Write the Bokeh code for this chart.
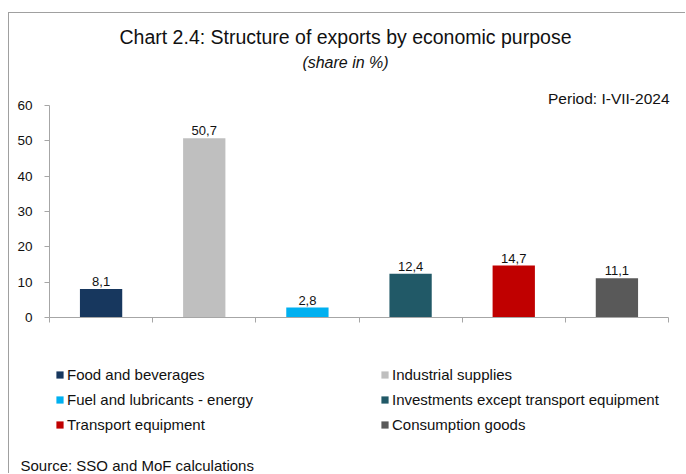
from bokeh.plotting import figure
from bokeh.models import (ColumnDataSource, Range1d, FixedTicker, LabelSet, Label,
                          Legend, LegendItem)
from bokeh.core.properties import value
from bokeh.embed import file_html
from bokeh.resources import INLINE

# ---- data ----
categories = ["Food and beverages", "Industrial supplies", "Fuel and lubricants - energy",
              "Investments except transport equipment", "Transport equipment", "Consumption goods"]
values = [8.1, 50.7, 2.8, 12.4, 14.7, 11.1]
colors = ["#17375E", "#BFBFBF", "#00B0F0", "#215967", "#C00000", "#595959"]
y_ticks = [0, 10, 20, 30, 40, 50, 60]
y_max = 60
title_text = "Chart 2.4: Structure of exports by economic purpose"
subtitle_text = "(share in %)"
period_text = "Period: I-VII-2024"
source_text = "Source: SSO and MoF calculations"

FONT = "Liberation Sans"
GREY = "#a6a6a6"
TXT = "#111111"

# ---- layout (pixels on the canvas) ----
CW, CH = 677, 461          # canvas size
X0, X1 = 40, 659           # pixel span of the category axis
Y0, Y1 = 304, 92           # pixel rows (from top) of value 0 and value y_max
n = len(categories)
ppx = (X1 - X0) / n
ppy = (Y0 - Y1) / y_max
x_range = Range1d(-X0 / ppx, (CW - X0) / ppx)
y_range = Range1d(-(CH - Y0) / ppy, y_max + Y1 / ppy)

src = ColumnDataSource(dict(
    x=[i + 0.5 for i in range(n)],
    top=values,
    color=colors,
    label=[f"{v:.1f}".replace(".", ",") for v in values],
    name=categories,
))

p = figure(width=CW, height=CH, x_range=x_range, y_range=y_range,
           output_backend="svg", toolbar_location=None,
           min_border_left=0, min_border_right=0, min_border_top=0, min_border_bottom=0)
p.styles = {"margin-left": "8px", "margin-top": "12px",
            "border-left": "1px solid #a0a0a0", "border-top": "1px solid #a0a0a0"}
p.outline_line_color = None
p.grid.visible = False
p.background_fill_color = "white"
p.border_fill_color = "white"

r = p.vbar(x="x", top="top", width=0.41, source=src, fill_color="color", line_color=None)

# x axis: at value 0, ticks at category boundaries, no labels
p.xaxis.fixed_location = 0
p.xaxis.bounds = (0, n)
p.xaxis.ticker = FixedTicker(ticks=list(range(n + 1)))
p.xaxis.major_label_text_color = None
p.xaxis.major_label_overrides = {i: "" for i in range(n + 1)}
p.xaxis.major_label_standoff = 0
p.xaxis.minor_tick_line_color = None
p.xaxis.major_tick_in = 0
p.xaxis.major_tick_out = 5
p.xaxis.axis_line_color = GREY
p.xaxis.major_tick_line_color = GREY

# y axis
p.yaxis.fixed_location = 0
p.yaxis.bounds = (0, y_max)
p.yaxis.ticker = FixedTicker(ticks=y_ticks)
p.yaxis.minor_tick_line_color = None
p.yaxis.major_tick_in = 0
p.yaxis.major_tick_out = 5
p.yaxis.axis_line_color = GREY
p.yaxis.major_tick_line_color = GREY
p.yaxis.major_label_standoff = 12
p.yaxis.major_label_text_font = FONT
p.yaxis.major_label_text_font_size = "13.5px"
p.yaxis.major_label_text_color = TXT

# value labels
p.add_layout(LabelSet(x="x", y="top", text="label", source=src, text_align="center",
                      text_baseline="bottom", y_offset=3, text_font=value(FONT),
                      text_font_size=value("13px"), text_color=TXT))

def note(text, x, y, align, size, style="normal"):
    p.add_layout(Label(x=x, y=y, x_units="screen", y_units="screen", text=text,
                       text_align=align, text_baseline="middle", text_font=FONT,
                       text_font_size=size, text_font_style=style, text_color=TXT))

note(title_text, 336, 438, "center", "19.5px")
note(subtitle_text, 336, 412, "center", "16px", "italic")
note(period_text, 660, 376, "right", "15.5px")
note(source_text, 11, 9, "left", "15px")

# legends (two columns)
def make_legend(idx, loc):
    leg = Legend(items=[LegendItem(label=categories[i], renderers=[r], index=i) for i in idx],
                 location=loc, orientation="vertical")
    leg.border_line_color = None
    leg.background_fill_alpha = 0
    leg.padding = 0
    leg.margin = 0
    leg.spacing = 8
    leg.glyph_width = 9
    leg.glyph_height = 9
    leg.label_height = 14
    leg.label_standoff = 3
    leg.label_text_font = FONT
    leg.label_text_font_size = "15px"
    leg.label_text_color = TXT
    return leg

p.add_layout(make_legend([0, 2, 4], (46, 41)), "center")
p.add_layout(make_legend([1, 3, 5], (371, 41)), "center")

open("out.html", "w").write(file_html(p, INLINE))
